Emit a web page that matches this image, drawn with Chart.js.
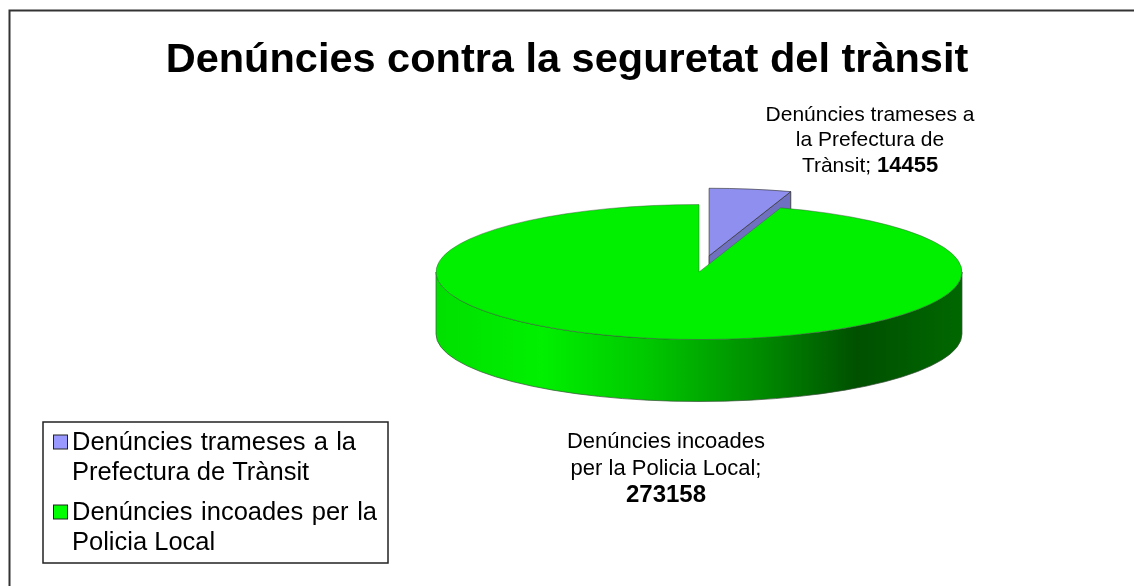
<!DOCTYPE html>
<html>
<head>
<meta charset="utf-8">
<script src="https://cdn.jsdelivr.net/npm/chart.js@4"></script>
<style>
body{margin:0;background:#fff;}
canvas{display:block;}
</style>
</head>
<body>
<canvas id="pieChart" width="1134" height="586"></canvas>
<script>
const chartTitle='Denúncies contra la seguretat del trànsit';
const categories=['Denúncies trameses a la Prefectura de Trànsit','Denúncies incoades per la Policia Local'];
const values=[14455,273158];
const topColors=['#8f8fef','#00f000'];
const swatchColors=['#9999ff','#00ff00'];
const legendLines=[['Denúncies trameses a la','Prefectura de Trànsit'],['Denúncies incoades per la','Policia Local']];
const labelLines=[['Denúncies trameses a','la Prefectura de','Trànsit; '],['Denúncies incoades','per la Policia Local;','']];

const FONT='"Liberation Sans", Arial, sans-serif';
const centerX=699, centerY=272, radius=263, squash=0.2567, depth=62, explode=64;

function toScreen(chart,x,y){//flat pie coords -> squashed picture coords
  const midY=(chart.chartArea.top+chart.chartArea.bottom)/2;
  return {x:x,y:centerY+(y-midY)*squash};
}

const explodePlugin={
  id:'explode',
  afterDatasetsUpdate(chart){
    const arcs=chart.getDatasetMeta(0).data;
    arcs.forEach(function(a){a.x=centerX;});//pie sits right of the title centre
    const a=arcs[0];//pull the small slice out
    const mid=(a.startAngle+a.endAngle)/2;
    a.x+=Math.cos(mid)*explode;
    a.y+=Math.sin(mid)*explode;
  }
};

const pie3dPlugin={
  id:'pie3d',
  beforeDatasetsDraw(chart){
    const ctx=chart.ctx;
    const arcs=chart.getDatasetMeta(0).data;
    // wall of the pulled slice, green top hides most of it
    const b=arcs[0];
    const c=toScreen(chart,b.x,b.y);
    const ex=c.x+Math.cos(b.endAngle)*radius;
    const ey=c.y+Math.sin(b.endAngle)*radius*squash;
    ctx.save();
    ctx.beginPath();
    ctx.moveTo(c.x,c.y);
    ctx.lineTo(ex,ey);
    ctx.lineTo(ex,ey+depth);
    ctx.lineTo(c.x,c.y+depth);
    ctx.closePath();
    ctx.fillStyle='#7070c0';
    ctx.fill();
    ctx.strokeStyle='#444';
    ctx.lineWidth=1;
    ctx.stroke();
    // front wall of the big slice
    const g=arcs[1];
    const gc=toScreen(chart,g.x,g.y);
    const grad=ctx.createLinearGradient(gc.x-radius,0,gc.x+radius,0);
    grad.addColorStop(0,'#00e000');
    grad.addColorStop(0.2,'#00f000');
    grad.addColorStop(0.4,'#00c800');
    grad.addColorStop(0.62,'#008a00');
    grad.addColorStop(0.8,'#005000');
    grad.addColorStop(1,'#006800');
    ctx.beginPath();
    ctx.ellipse(gc.x,gc.y,radius,radius*squash,0,0,Math.PI);
    ctx.lineTo(gc.x-radius,gc.y+depth);
    ctx.ellipse(gc.x,gc.y+depth,radius,radius*squash,0,Math.PI,0,true);
    ctx.closePath();
    ctx.fillStyle=grad;
    ctx.fill();
    ctx.strokeStyle='rgba(60,80,60,0.7)';
    ctx.stroke();
    ctx.restore();
    // squash the library's own arcs
    ctx.save();
    const midY=(chart.chartArea.top+chart.chartArea.bottom)/2;
    ctx.translate(0,centerY);
    ctx.scale(1,squash);
    ctx.translate(0,-midY);
  },
  afterDatasetsDraw(chart){
    chart.ctx.restore();
  }
};

const extrasPlugin={
  id:'extras',
  afterDraw(chart){
    const ctx=chart.ctx;
    ctx.save();
    // outer frame, open on the right and bottom
    ctx.strokeStyle='#333';
    ctx.lineWidth=2;
    ctx.beginPath();
    ctx.moveTo(9.5,586);
    ctx.lineTo(9.5,10.5);
    ctx.lineTo(1134,10.5);
    ctx.stroke();
    // slice labels
    ctx.textBaseline='middle';
    ctx.fillStyle='#000';
    const labelX=[870,666], labelY=[115,442], step=[25.5,26.5];
    const plainSize=[21,22], boldSize=[22,24];
    labelLines.forEach(function(lines,i){
      const plain=plainSize[i]+'px '+FONT, bold='bold '+boldSize[i]+'px '+FONT;
      lines.forEach(function(line,j){
        const y=labelY[i]+j*step[i];
        if(j<2){
          ctx.font=plain;
          ctx.textAlign='center';
          ctx.fillText(line,labelX[i],y);
        }else{
          ctx.font=plain;
          const w1=ctx.measureText(line).width;
          ctx.font=bold;
          const w2=ctx.measureText(String(values[i])).width;
          const x0=labelX[i]-(w1+w2)/2;
          ctx.textAlign='left';
          ctx.font=plain;
          ctx.fillText(line,x0,y);
          ctx.font=bold;
          ctx.fillText(String(values[i]),x0+w1,y);
        }
      });
    });
    // legend box
    ctx.strokeStyle='#222';
    ctx.lineWidth=1.5;
    ctx.fillStyle='#fff';
    ctx.fillRect(43,422,345,141);
    ctx.strokeRect(43,422,345,141);
    const lineY=[[443,473],[513,543]], rightEdge=[356,377];
    legendLines.forEach(function(lines,i){
      ctx.fillStyle=swatchColors[i];
      ctx.fillRect(53.5,lineY[i][0]-8,14,14);
      ctx.strokeStyle='#222';
      ctx.lineWidth=1;
      ctx.strokeRect(53.5,lineY[i][0]-8,14,14);
      ctx.fillStyle='#000';
      ctx.font='25.5px '+FONT;
      ctx.textAlign='left';
      lines.forEach(function(line,j){
        ctx.wordSpacing='0px';
        if(j===0){//first lines are justified in the box
          const gaps=line.split(' ').length-1;
          const extra=(rightEdge[i]-72-ctx.measureText(line).width)/gaps;
          ctx.wordSpacing=extra+'px';
        }
        ctx.fillText(line,72,lineY[i][j]);
      });
      ctx.wordSpacing='0px';
    });
    ctx.restore();
  }
};

const pieCtx=document.getElementById('pieChart').getContext('2d');
const pieChart=new Chart(pieCtx,{
  type:'pie',
  data:{
    labels:categories,
    datasets:[{
      data:values,
      backgroundColor:topColors,
      borderColor:['#333','rgba(60,80,60,0.7)'],
      borderWidth:1,
      clip:false
    }]
  },
  options:{
    responsive:false,
    animation:false,
    events:[],
    radius:radius,
    plugins:{
      legend:{display:false},
      tooltip:{enabled:false},
      title:{
        display:true,
        text:chartTitle,
        color:'#000',
        font:{family:FONT,size:41.5,weight:'bold'},
        padding:{top:36,bottom:10}
      }
    }
  },
  plugins:[explodePlugin,pie3dPlugin,extrasPlugin]
});
</script>
</body>
</html>
